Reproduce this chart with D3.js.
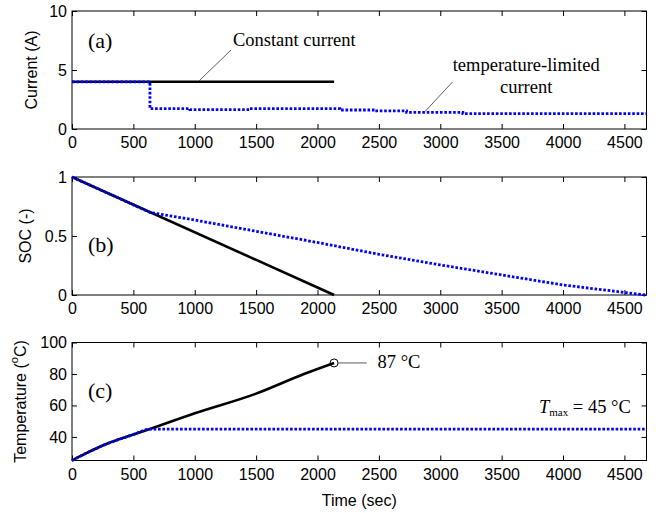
<!DOCTYPE html>
<html lang="en">
<head>
    <meta charset="UTF-8">
    <title>Current, SOC and temperature</title>
    <script src="https://d3js.org/d3.v7.min.js"></script>
    <style>
        body { margin: 0; background: #fff; }
        .tick text { font-family: "Liberation Sans", Arial, sans-serif; font-size: 16px; fill: #000; }
        .tick line { stroke: #000; }
        .ann { font-family: "Liberation Serif", "Times New Roman", serif; fill: #000; }
        .ylab { font-family: "Liberation Sans", Arial, sans-serif; font-size: 16px; }
    </style>
</head>
<body>
<svg width="667" height="513"></svg>
<script>
    // time axis
    var xMax = 4680;
    var timeTicks = [0, 500, 1000, 1500, 2000, 2500, 3000, 3500, 4000, 4500];

    // (a) current
    var ccCurrentTime = [0, 2135];
    var ccCurrent = [4, 4];
    var tlCurrentTime = [0, 635, 961, 1450, 2182, 2468, 2726, 3184, 4680];
    var tlCurrent = [4, 1.72, 1.64, 1.72, 1.61, 1.53, 1.41, 1.30, 1.30];
    var currentTicks = [0, 5, 10];

    // (b) state of charge
    var ccSocTime = [0, 2135];
    var ccSoc = [1, 0];
    var tlSocTime = [0, 635, 1000, 1500, 2000, 2500, 3000, 3500, 4000, 4670];
    var tlSoc = [1, 0.70, 0.635, 0.54, 0.445, 0.345, 0.255, 0.17, 0.085, 0];
    var socTicks = [0, 0.5, 1];

    // (c) temperature
    var ccTempTime = [0, 100, 250, 500, 635, 1000, 1500, 1890, 2135];
    var ccTemp = [25, 29, 34.5, 41.5, 45, 55, 67.5, 80, 87];
    var tlTempTime = [0, 100, 250, 500, 635, 4680];
    var tlTemp = [25, 29, 34.5, 41.5, 45, 45];
    var tempTicks = [40, 60, 80, 100];

    var svg = d3.select("svg"),
        margin = {left: 72, right: 20.5},
        plotH = 118,
        tops = [11, 177, 342.5];

    var x = d3.scaleLinear().domain([0, xMax]).range([margin.left, 667 - margin.right]);

    function zip(a, b) { return a.map((d, i) => [d, b[i]]); }

    function panel(top, yDomain, yTicks, yFmt) {
        var y = d3.scaleLinear().domain(yDomain).range([top + plotH, top]);
        var g = svg.append("g");

        g.append("g")
            .attr("transform", "translate(0," + (top + plotH) + ")")
            .call(d3.axisBottom(x).tickValues(timeTicks).tickSize(-5).tickPadding(8).tickFormat(d3.format("d")))
            .select(".domain").remove();
        g.append("g")
            .attr("transform", "translate(0," + top + ")")
            .call(d3.axisTop(x).tickValues(timeTicks).tickSize(-5).tickFormat(""))
            .select(".domain").remove();
        g.append("g")
            .attr("transform", "translate(" + x(0) + ",0)")
            .call(d3.axisLeft(y).tickValues(yTicks).tickSize(-5).tickPadding(5).tickFormat(yFmt))
            .select(".domain").remove();
        g.append("g")
            .attr("transform", "translate(" + x(xMax) + ",0)")
            .call(d3.axisRight(y).tickValues(yTicks).tickSize(-5).tickFormat(""))
            .select(".domain").remove();

        g.append("rect")
            .attr("x", x(0)).attr("y", top)
            .attr("width", x(xMax) - x(0)).attr("height", plotH)
            .attr("fill", "none").attr("stroke", "#000").attr("stroke-width", 1);
        return {g: g, y: y};
    }

    function black(p, pts, curve) {
        p.g.append("path")
            .datum(pts)
            .attr("fill", "none").attr("stroke", "#000").attr("stroke-width", 2.6)
            .attr("d", d3.line().x(d => x(d[0])).y(d => p.y(d[1])).curve(curve || d3.curveLinear));
    }
    function blue(p, pts, curve) {
        p.g.append("path")
            .datum(pts)
            .attr("fill", "none").attr("stroke", "#0000ff").attr("stroke-width", 2.8)
            .attr("stroke-dasharray", "2.6,1.8")
            .attr("d", d3.line().x(d => x(d[0])).y(d => p.y(d[1])).curve(curve || d3.curveLinear));
    }
    function ann(p, t, v, txt, size, anchor) {
        return p.g.append("text").attr("class", "ann")
            .attr("x", x(t)).attr("y", p.y(v))
            .attr("font-size", size).attr("text-anchor", anchor || "start")
            .text(txt);
    }
    function leader(p, t1, v1, t2, v2) {
        p.g.append("line")
            .attr("x1", x(t1)).attr("y1", p.y(v1)).attr("x2", x(t2)).attr("y2", p.y(v2))
            .attr("stroke", "#333").attr("stroke-width", 0.8);
    }

    // (a)
    var pa = panel(tops[0], [0, 10], currentTicks, d3.format("d"));
    black(pa, zip(ccCurrentTime, ccCurrent));
    blue(pa, zip(tlCurrentTime, tlCurrent), d3.curveStepAfter);
    ann(pa, 130, 6.86, "(a)", 22);
    ann(pa, 1311, 7.03, "Constant current", 18.5);
    leader(pa, 1295, 6.69, 1034, 4.07);
    ann(pa, 3700, 4.9, "temperature-limited", 18.5, "middle");
    ann(pa, 3700, 3.05, "current", 18.5, "middle");
    leader(pa, 3100, 3.99, 2875, 1.47);

    // (b)
    var pb = panel(tops[1], [0, 1], socTicks, d => d === 0.5 ? "0.5" : d3.format("d")(d));
    black(pb, zip(ccSocTime, ccSoc));
    blue(pb, zip(tlSocTime, tlSoc));
    ann(pb, 130, 0.364, "(b)", 22);

    // (c)
    var pc = panel(tops[2], [25, 100], tempTicks, d3.format("d"));
    black(pc, zip(ccTempTime, ccTemp), d3.curveMonotoneX);
    blue(pc, zip(tlTempTime, tlTemp), d3.curveMonotoneX);
    ann(pc, 130, 64.7, "(c)", 22);
    var endT = ccTempTime[ccTempTime.length - 1], endV = ccTemp[ccTemp.length - 1];
    pc.g.append("circle")
        .attr("cx", x(endT)).attr("cy", pc.y(endV)).attr("r", 4)
        .attr("fill", "none").attr("stroke", "#000").attr("stroke-width", 1);
    leader(pc, endT + 33, endV, 2400, endV);
    ann(pc, 2489, 83.8, "87 \u00B0C", 18.5);
    var tmax = ann(pc, 4552, 55.2, "", 18.5, "end");
    tmax.append("tspan").attr("font-style", "italic").text("T");
    tmax.append("tspan").attr("font-size", 11).attr("dy", 3).text("max");
    tmax.append("tspan").attr("dy", -3).text(" = 45 \u00B0C");

    // axis titles
    function ylab(cx, cy) {
        return svg.append("text").attr("class", "ylab")
            .attr("transform", "translate(" + cx + "," + cy + ") rotate(-90)")
            .attr("text-anchor", "middle").attr("dominant-baseline", "central");
    }
    ylab(31, tops[0] + plotH / 2).text("Current (A)");
    ylab(25, tops[1] + plotH / 2).text("SOC (-)");
    var tl = ylab(20, tops[2] + plotH / 2);
    tl.append("tspan").text("Temperature (");
    tl.append("tspan").attr("font-size", 11).attr("dy", -6).text("o");
    tl.append("tspan").attr("dy", 6).text("C)");

    svg.append("text").attr("class", "ylab")
        .attr("x", (x(0) + x(xMax)) / 2).attr("y", tops[2] + plotH + 45.5)
        .attr("text-anchor", "middle").text("Time (sec)");
</script>
</body>
</html>
